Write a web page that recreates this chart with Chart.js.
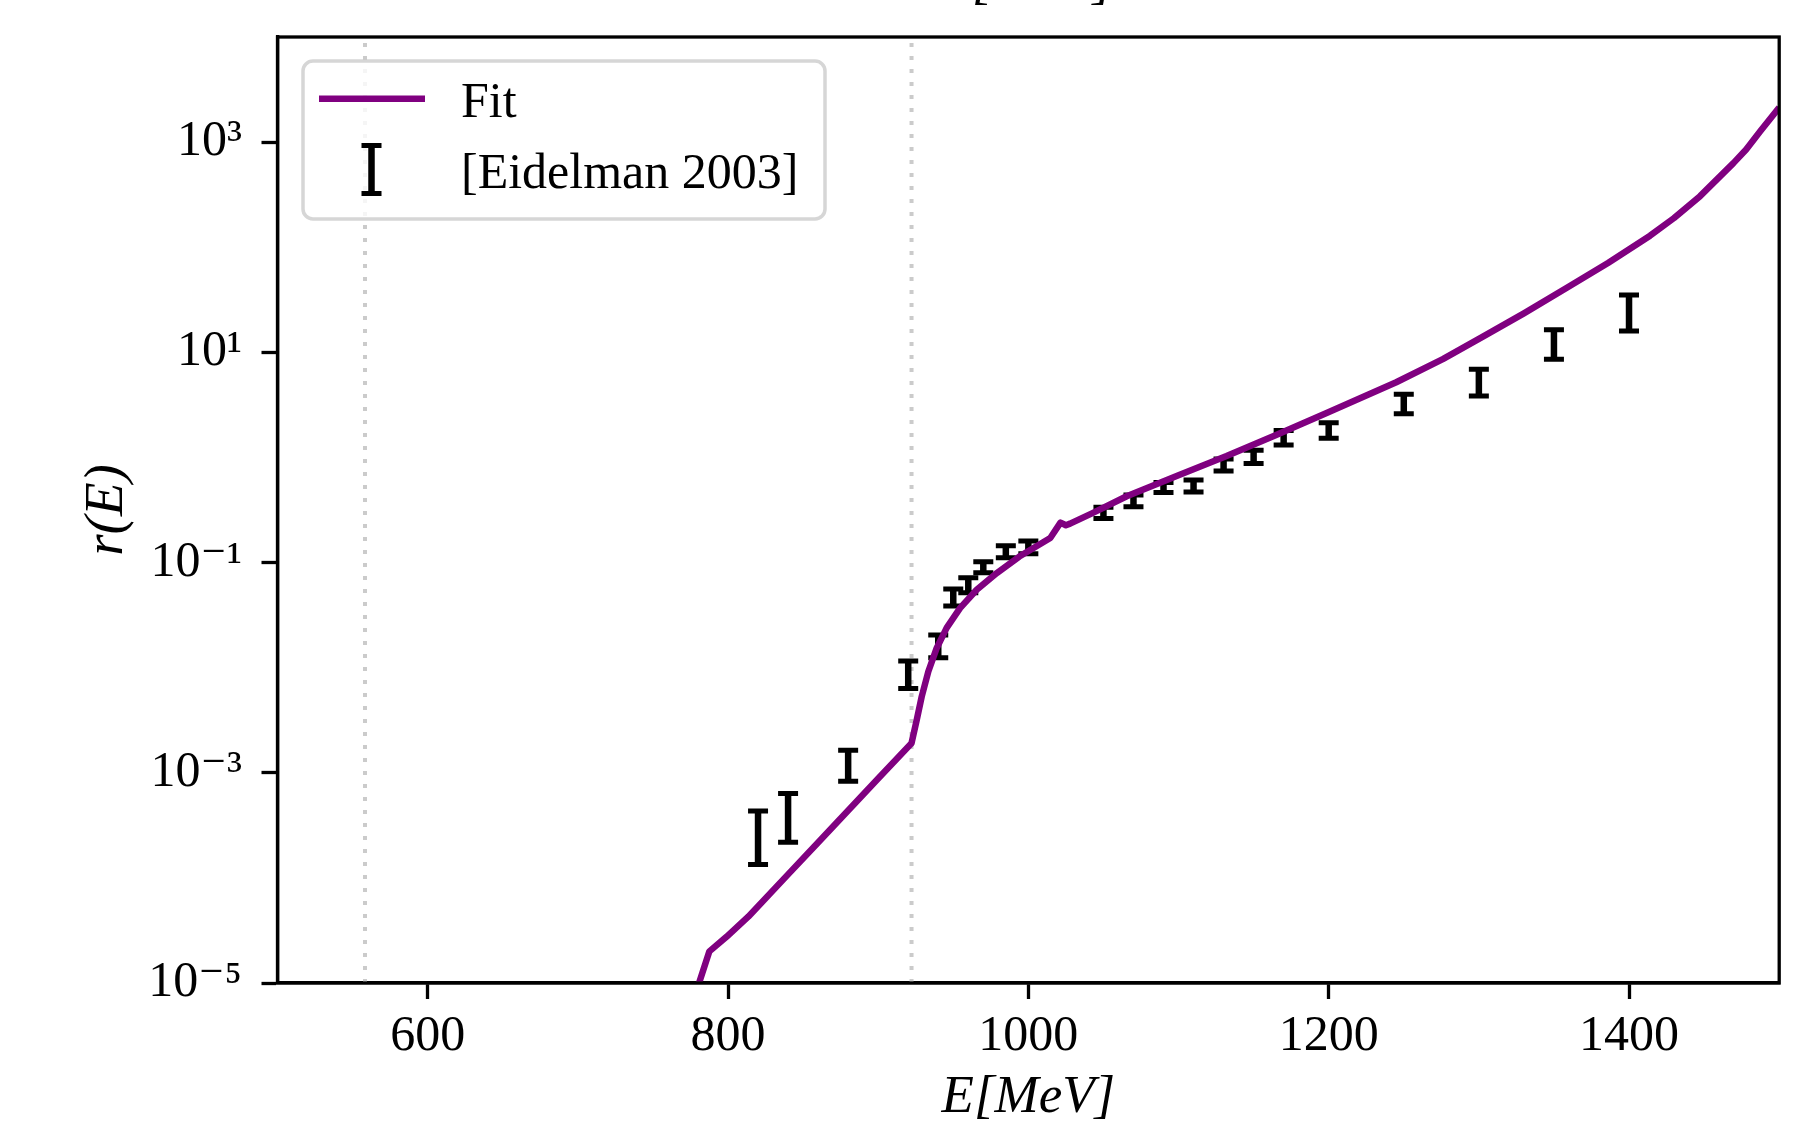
<!DOCTYPE html>
<html>
<head>
<meta charset="utf-8">
<script src="https://cdn.jsdelivr.net/npm/chart.js@4/dist/chart.umd.min.js"></script>
<style>
html,body{margin:0;padding:0;background:#fff;overflow:hidden}
#wrap{width:1820px;height:1124px;position:relative}
canvas{display:block}
</style>
</head>
<body>
<div id="wrap"><canvas id="c" width="1820" height="1124"></canvas></div>
<script>
// ---- data ----
const fitE = [778, 787.6, 799, 813.5, 840, 860, 880, 900, 922.2, 925.7, 929, 933.4, 939, 945.6, 954.5, 965.6, 979, 994, 1014.6, 1021.4, 1025, 1027.8, 1042, 1065.5, 1100, 1132, 1165, 1199, 1245, 1276, 1303, 1330, 1358.6, 1386, 1414, 1430, 1447.3, 1469.5, 1478, 1487.5, 1500];
const fitR = [7.6e-6, 2.0e-5, 2.75e-5, 4.27e-5, 1.08e-4, 2.17e-4, 4.38e-4, 8.81e-4, 1.91e-3, 3.19e-3, 5.32e-3, 9.2e-3, 0.0154, 0.0239, 0.0369, 0.0551, 0.0794, 0.114, 0.171, 0.240, 0.2265, 0.2344, 0.292, 0.427, 0.676, 1.030, 1.637, 2.661, 5.19, 8.61, 14.19, 23.5, 41.1, 70.8, 128.8, 189.7, 306, 631, 851, 1274, 2138];

const dataE = [820, 840, 880, 920, 940, 950, 960, 970, 985, 1000, 1050, 1070, 1090, 1110, 1130, 1150, 1170, 1200, 1250, 1300, 1350, 1400];
const dataR = [2.83e-4, 4.26e-4, 1.236e-3, 8.95e-3, 0.01642, 0.0473, 0.0617, 0.0909, 0.1279, 0.1408, 0.299, 0.390, 0.521, 0.540, 0.855, 1.021, 1.558, 1.83, 3.30, 5.37, 12.5, 25.6];
const dataErr = [1.49e-4, 2.08e-4, 4.04e-4, 2.61e-3, 4.00e-3, 8.7e-3, 1.01e-2, 1.09e-2, 1.67e-2, 1.96e-2, 0.036, 0.050, 0.058, 0.070, 0.112, 0.147, 0.242, 0.31, 0.69, 1.52, 3.9, 9.6];

const thresholds = [558.28, 922.22];

const xRange = [500, 1500];
const yRange = [1e-5, 1e4];
const xTicks = [600, 800, 1000, 1200, 1400];
const xTickLabels = ['600', '800', '1000', '1200', '1400'];
const yTicks = [1e-5, 1e-3, 1e-1, 1e1, 1e3];
const yTickLabels = ['10\u207B\u2075', '10\u207B\u00B3', '10\u207B\u00B9', '10\u00B9', '10\u00B3'];

const xLabel = 'E[MeV]';
const yLabel = 'r(E)';
const fitLabel = 'Fit';
const dataLabel = '[Eidelman 2003]';

// ---- styling ----
const FONT = "'Liberation Serif', 'DejaVu Serif', serif";
const FS = 50;
const PURPLE = '#800080';

const errorBarPlugin = {
  id: 'errorBars',
  afterDatasetDraw(chart, args) {
    const ds = chart.data.datasets[args.index];
    if (!ds.errorBars) return;
    const {ctx, chartArea: a, scales: {x, y}} = chart;
    ctx.save();
    ctx.beginPath();
    ctx.rect(a.left, a.top, a.right - a.left, a.bottom - a.top);
    ctx.clip();
    ctx.strokeStyle = '#000';
    ctx.lineCap = 'butt';
    ds.data.forEach((p, i) => {
      const err = ds.errorBars[i];
      const px = x.getPixelForValue(p.x);
      const yHi = y.getPixelForValue(p.y + err);
      const yLo = y.getPixelForValue(p.y - err);
      ctx.lineWidth = 6.5;
      ctx.beginPath(); ctx.moveTo(px, yLo); ctx.lineTo(px, yHi); ctx.stroke();
      ctx.lineWidth = 5;
      ctx.beginPath();
      ctx.moveTo(px - 10, yHi); ctx.lineTo(px + 10, yHi);
      ctx.moveTo(px - 10, yLo); ctx.lineTo(px + 10, yLo);
      ctx.stroke();
    });
    ctx.restore();
  }
};

const framePlugin = {
  id: 'frame',
  afterDatasetsDraw(chart) {
    const {ctx, chartArea: a} = chart;
    ctx.save();
    ctx.strokeStyle = '#000';
    ctx.lineWidth = 3.3;
    ctx.lineJoin = 'miter';
    ctx.strokeRect(a.left, a.top, a.right - a.left, a.bottom - a.top);
    ctx.restore();
  }
};

const legendPlugin = {
  id: 'mplLegend',
  afterDraw(chart) {
    const {ctx, chartArea: a} = chart;
    const bx = a.left + 25.5, by = a.top + 24, bw = 522, bh = 158;
    ctx.save();
    ctx.fillStyle = 'rgba(255,255,255,0.8)';
    ctx.strokeStyle = 'rgba(204,204,204,0.8)';
    ctx.lineWidth = 3.5;
    ctx.beginPath();
    ctx.roundRect(bx, by, bw, bh, 10);
    ctx.fill();
    ctx.stroke();
    // Fit handle
    ctx.strokeStyle = PURPLE;
    ctx.lineWidth = 6.5;
    ctx.lineCap = 'butt';
    ctx.beginPath();
    ctx.moveTo(bx + 16, by + 37.7);
    ctx.lineTo(bx + 122, by + 37.7);
    ctx.stroke();
    // errorbar handle
    const hx = bx + 68.5;
    ctx.strokeStyle = '#000';
    ctx.lineWidth = 6.5;
    ctx.beginPath(); ctx.moveTo(hx, by + 84.5); ctx.lineTo(hx, by + 132.5); ctx.stroke();
    ctx.lineWidth = 5;
    ctx.beginPath();
    ctx.moveTo(hx - 10, by + 84.5); ctx.lineTo(hx + 10, by + 84.5);
    ctx.moveTo(hx - 10, by + 132.5); ctx.lineTo(hx + 10, by + 132.5);
    ctx.stroke();
    // texts
    ctx.fillStyle = '#000';
    ctx.font = FS + 'px ' + FONT;
    ctx.textAlign = 'left';
    ctx.textBaseline = 'alphabetic';
    ctx.fillText(fitLabel, bx + 158, by + 56);
    ctx.fillText(dataLabel, bx + 158, by + 127);
    // cut-off x label of the panel above
    ctx.font = 'italic 53px ' + FONT;
    ctx.textAlign = 'center';
    ctx.fillText(xLabel, (a.left + a.right) / 2 - 2, a.top - 39);
    ctx.restore();
  }
};

const datasets = [
  {
    label: fitLabel, type: 'line',
    data: fitE.map((e, i) => ({x: e, y: fitR[i]})),
    borderColor: PURPLE, borderWidth: 6.5, pointRadius: 0, tension: 0,
    fill: false, order: 0, clip: 0, borderJoinStyle: 'round', borderCapStyle: 'butt'
  },
  {
    label: dataLabel, type: 'scatter',
    data: dataE.map((e, i) => ({x: e, y: dataR[i]})),
    errorBars: dataErr, pointRadius: 0, pointHoverRadius: 0, order: 1
  }
].concat(thresholds.map(t => ({
  label: 'threshold ' + t, type: 'line',
  data: [{x: t, y: yRange[0]}, {x: t, y: yRange[1]}],
  borderColor: '#cbcbcb', borderWidth: 4, borderDash: [4, 9], borderCapStyle: 'butt',
  pointRadius: 0, order: 2, clip: 0, fill: false
})));

new Chart(document.getElementById('c'), {
  type: 'scatter',
  data: {datasets},
  options: {
    responsive: false,
    animation: false,
    devicePixelRatio: 1,
    events: [],
    layout: {padding: {top: 37, right: 40.8, left: 0, bottom: 0}},
    plugins: {legend: {display: false}, tooltip: {enabled: false}, title: {display: false}},
    scales: {
      x: {
        type: 'linear', position: 'bottom', min: xRange[0], max: xRange[1],
        afterBuildTicks: s => { s.ticks = xTicks.map(v => ({value: v})); },
        afterFit: s => { s.height = 141; s.paddingLeft = 0; s.paddingRight = 0; },
        ticks: {
          callback: v => { const i = xTicks.indexOf(v); return i >= 0 ? xTickLabels[i] : ''; },
          font: {family: FONT, size: FS}, color: '#000', padding: 7.5,
          autoSkip: false, maxRotation: 0, minRotation: 0
        },
        grid: {display: true, drawOnChartArea: false, drawTicks: true, tickLength: 16, tickWidth: 3.3, tickColor: '#000'},
        border: {display: true, color: '#000', width: 3.3},
        title: {display: true, text: xLabel, color: '#000', font: {family: FONT, size: 53, style: 'italic'}, padding: {top: 0, bottom: -6}}
      },
      y: {
        type: 'logarithmic', position: 'left', min: yRange[0], max: yRange[1],
        afterBuildTicks: s => { s.ticks = yTicks.map(v => ({value: v, major: true})); },
        afterFit: s => { s.width = 277.5; s.paddingTop = 0; s.paddingBottom = 0; },
        ticks: {
          callback: v => { const i = yTicks.indexOf(v); return i >= 0 ? yTickLabels[i] : ''; },
          font: {family: FONT, size: FS}, color: '#000', padding: 19.5, autoSkip: false
        },
        grid: {display: true, drawOnChartArea: false, drawTicks: true, tickLength: 16, tickWidth: 3.3, tickColor: '#000'},
        border: {display: true, color: '#000', width: 3.3},
        title: {display: true, text: yLabel, color: '#000', font: {family: FONT, size: 55, style: 'italic'}, padding: {top: 74.5, bottom: 0}}
      }
    }
  },
  plugins: [errorBarPlugin, framePlugin, legendPlugin]
});
</script>
</body>
</html>
